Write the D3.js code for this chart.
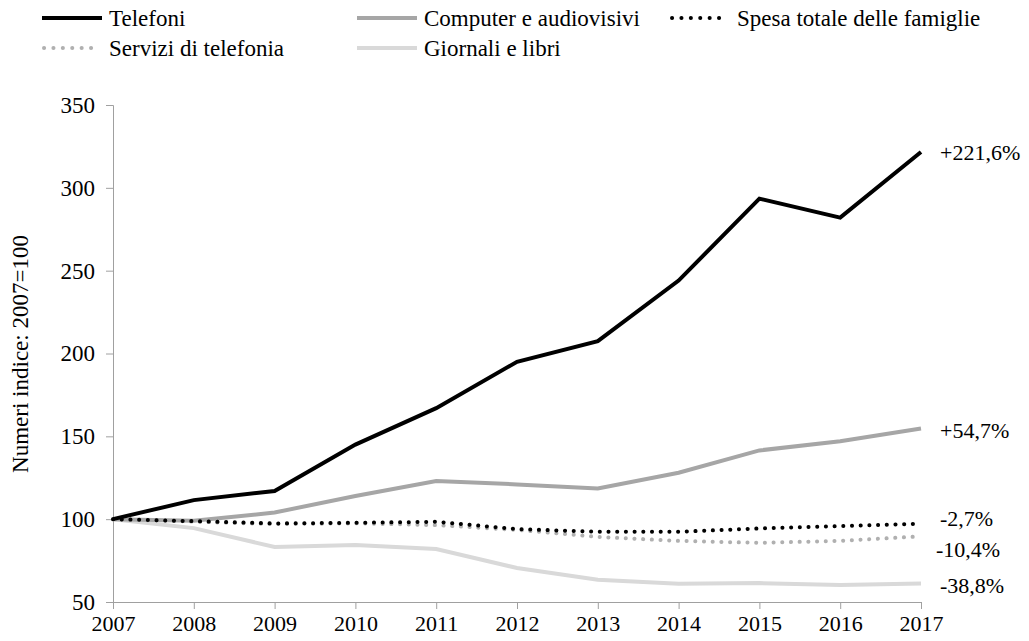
<!DOCTYPE html>
<html>
<head>
<meta charset="utf-8">
<script src="https://cdn.jsdelivr.net/npm/d3@7"></script>
<style>
  body { margin: 0; background: #fff; }
</style>
</head>
<body>
<svg id="chart" width="1029" height="641"></svg>
<script>
const years = [2007, 2008, 2009, 2010, 2011, 2012, 2013, 2014, 2015, 2016, 2017];

const telefoni = [100, 111.5, 117, 145, 167, 195, 207.5, 244, 293.5, 282, 321.6];
const computer = [100, 99, 104, 114, 123, 121, 118.5, 128, 141.5, 147, 154.7];
const spesaTotale = [100, 98.8, 97.4, 97.8, 98.4, 94, 92.4, 92.4, 94.4, 95.8, 97.3];
const serviziTelefonia = [100, 98.5, 97, 97.5, 96.4, 93.5, 89.3, 86.9, 85.7, 86.9, 89.6];
const giornaliLibri = [100, 94.6, 83.2, 84.4, 82, 70.5, 63.4, 61, 61.4, 60.2, 61.2];

const yTicks = [50, 100, 150, 200, 250, 300, 350];
const endLabels = ["+221,6%", "+54,7%", "-2,7%", "-10,4%", "-38,8%"];

const FONT = "'Liberation Serif', 'Times New Roman', Times, serif";

const series = [
  { name: "Telefoni", values: telefoni, color: "#000000", dash: null, width: 4, label: endLabels[0] },
  { name: "Computer e audiovisivi", values: computer, color: "#a6a6a6", dash: null, width: 4, label: endLabels[1] },
  { name: "Spesa totale delle famiglie", values: spesaTotale, color: "#000000", dash: "0.1 8.6", width: 4, label: endLabels[2] },
  { name: "Servizi di telefonia", values: serviziTelefonia, color: "#b0b0b0", dash: "0.1 8.6", width: 4, label: endLabels[3] },
  { name: "Giornali e libri", values: giornaliLibri, color: "#d9d9d9", dash: null, width: 4, label: endLabels[4] }
];

const svg = d3.select("#chart").attr("font-family", FONT);
const x = d3.scaleLinear().domain([2007, 2017]).range([113, 921]);
const y = d3.scaleLinear().domain([50, 350]).range([602, 105]);

// axes
const yAxis = svg.append("g")
  .attr("transform", "translate(113,0)")
  .call(d3.axisLeft(y).tickValues(yTicks).tickSize(7).tickPadding(11));
yAxis.attr("font-family", FONT).attr("font-size", 23);
yAxis.select(".domain").attr("stroke", "#a0a0a0");
yAxis.selectAll(".tick line").attr("stroke", "#a0a0a0");
yAxis.selectAll("text").attr("font-family", FONT).attr("font-size", 23).attr("fill", "#000");

const xAxis = svg.append("g")
  .attr("transform", "translate(0,602)")
  .call(d3.axisBottom(x).tickValues(years).tickFormat(d3.format("d")).tickSize(7).tickPadding(6));
xAxis.attr("font-family", FONT).attr("font-size", 22);
xAxis.select(".domain").attr("stroke", "#a0a0a0");
xAxis.selectAll(".tick line").attr("stroke", "#a0a0a0");
xAxis.selectAll("text").attr("font-family", FONT).attr("font-size", 22).attr("fill", "#000");

svg.append("text")
  .attr("transform", "translate(20,354) rotate(-90)")
  .attr("text-anchor", "middle")
  .attr("dy", "0.35em")
  .attr("font-family", FONT)
  .attr("font-size", 23)
  .text("Numeri indice: 2007=100");

// lines (lighter ones first so black stays on top)
const line = d3.line().x((d, i) => x(years[i])).y(d => y(d));
const drawOrder = [4, 3, 1, 2, 0];
drawOrder.forEach(k => {
  const s = series[k];
  svg.append("path")
    .datum(s.values)
    .attr("fill", "none")
    .attr("stroke", s.color)
    .attr("stroke-width", s.width)
    .attr("stroke-linecap", s.dash ? "round" : "butt")
    .attr("stroke-linejoin", "miter")
    .attr("stroke-dasharray", s.dash)
    .attr("d", line);
});

// end labels
const labelY = [152, 430, 518, 549, 585];
const labelX = [940, 940, 940, 936, 940];
series.forEach((s, i) => {
  svg.append("text")
    .attr("x", labelX[i])
    .attr("y", labelY[i])
    .attr("dy", "0.35em")
    .attr("font-family", FONT)
    .attr("font-size", 22)
    .text(s.label);
});

// legend
const legendPos = [
  { x: 42, y: 18 }, { x: 357, y: 18 }, { x: 670, y: 18 },
  { x: 42, y: 48 }, { x: 357, y: 48 }
];
series.forEach((s, i) => {
  const p = legendPos[i];
  const g = svg.append("g").attr("transform", `translate(${p.x},${p.y})`);
  g.append("line")
    .attr("x1", s.dash ? 2 : 0).attr("x2", s.dash ? 58 : 60)
    .attr("y1", 0).attr("y2", 0)
    .attr("stroke", s.color)
    .attr("stroke-width", s.width)
    .attr("stroke-linecap", s.dash ? "round" : "butt")
    .attr("stroke-dasharray", s.dash ? "0.1 9.3" : null);
  g.append("text")
    .attr("x", s.dash ? 67 : 67)
    .attr("dy", "0.35em")
    .attr("font-family", FONT)
    .attr("font-size", 23)
    .text(s.name);
});
</script>
</body>
</html>
